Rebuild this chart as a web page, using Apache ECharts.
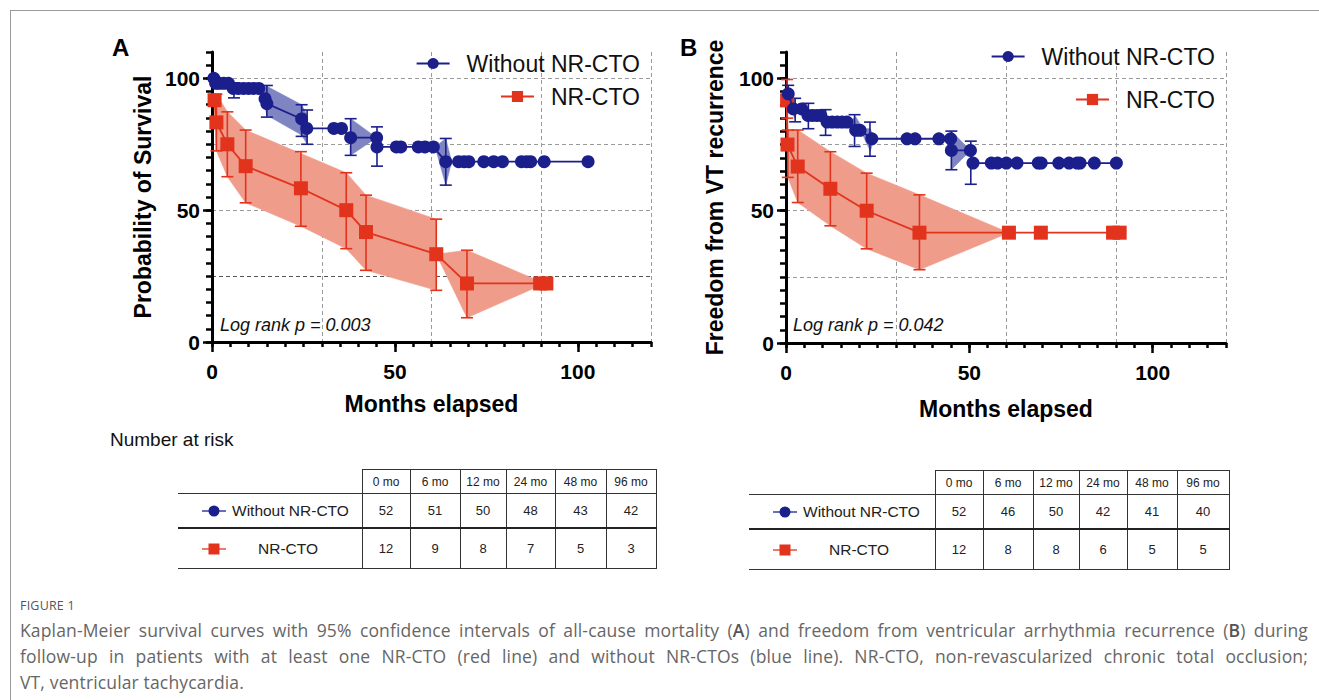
<!DOCTYPE html>
<html>
<head>
<meta charset="utf-8">
<script src="https://cdn.jsdelivr.net/npm/echarts@6/dist/echarts.min.js"></script>
<style>
  body { margin: 0; background: #fff; }
  #page { position: relative; width: 1319px; height: 700px; overflow: hidden; font-family: "Liberation Sans", Arial, sans-serif; }
  #frame { position: absolute; left: 10px; top: 10px; right: -2px; bottom: -2px; border-top: 1px solid #9a9a9a; border-left: 1px solid #9a9a9a; }
  #chart { position: absolute; left: 0; top: 0; width: 1319px; height: 430px; }
  #riskTitle { position: absolute; left: 110px; top: 429px; font-size: 19px; color: #111; }
  table.risk { position: absolute; border-collapse: collapse; table-layout: fixed; color: #222; }
  table.risk td { padding: 0; text-align: center; font-size: 13px; }
  table.risk tr.head td { height: 23px; font-size: 12px; border: 1px solid #333; }
  table.risk tr.head td.lab { border: none; border-bottom: 1px solid #333; }
  table.risk tr.r1 td { height: 33px; border-left: 1px solid #333; border-right: 1px solid #333; border-bottom: 2px solid #222; }
  table.risk tr.r2 td { height: 39px; border-left: 1px solid #333; border-right: 1px solid #333; border-bottom: 1px solid #333; }
  table.risk tr td.lab { border-left: hidden; text-align: left; padding-left: 24px; font-size: 15.5px; white-space: nowrap; }
  table.risk td.lab svg { vertical-align: middle; }
  #figLabel { position: absolute; left: 20px; top: 597px; font-family: "Open Sans", sans-serif; font-size: 12.5px; color: #555; letter-spacing: 0.2px; }
  #caption { position: absolute; left: 20px; top: 617px; width: 1288px; font-family: "Open Sans", sans-serif; font-size: 17.5px; letter-spacing: 0.15px; line-height: 26px; color: #666; }
  #caption .just { text-align: justify; text-align-last: justify; }
  #caption b { font-weight: 600; color: #555; }
</style>
</head>
<body>
<div id="page">
  <div id="frame"></div>
  <div id="chart"></div>
  <div id="riskTitle">Number at risk</div>
  <div id="tables"></div>
  <div id="figLabel">FIGURE 1</div>
  <div id="caption">
    <div class="just">Kaplan-Meier survival curves with 95% confidence intervals of all-cause mortality (<b>A</b>) and freedom from ventricular arrhythmia recurrence (<b>B</b>) during</div>
    <div class="just">follow-up in patients with at least one NR-CTO (red line) and without NR-CTOs (blue line). NR-CTO, non-revascularized chronic total occlusion;</div>
    <div>VT, ventricular tachycardia.</div>
  </div>
</div>
<script>
// axis tick labels
const xLabelValues = [0, 50, 100];
const yLabelValues = [0, 50, 100];

// Panel A: all-cause mortality, without NR-CTO
const aWithoutTime = [0.5, 1.0, 2.0, 3.2, 4.5, 5.8, 7.2, 8.6, 10.0, 11.4, 12.8, 14.5, 15.0, 24.5, 25.9, 33.3, 35.4, 37.9, 45.0, 45.1,
  50.4, 51.6, 56.4, 58.2, 60.5, 63.9, 67.4, 68.9, 70.2, 74.3, 77.0, 79.4, 84.6, 86.0, 87.1, 90.8, 102.8];
const aWithoutSurv = [100, 98.1, 98.1, 98.1, 98.1, 96.2, 96.2, 96.2, 96.2, 96.2, 96.2, 92.3, 90.4, 84.6, 81.0, 81.0, 81.0, 77.5, 77.5, 74.0,
  74.0, 74.0, 74.0, 74.0, 74.0, 68.4, 68.4, 68.4, 68.4, 68.4, 68.4, 68.4, 68.4, 68.4, 68.4, 68.4, 68.4];
// error bars [time, lower, upper]
const aWithoutCI = [[6.0, 92.6, 98.3], [15.0, 85.3, 97.3], [24.5, 78.0, 90.0], [26.0, 75.0, 88.0], [37.9, 70.8, 84.7], [45.1, 66.7, 81.6], [63.9, 59.5, 77.2]];
// shaded bands, list of segments of [time, lower, upper]
const aWithoutBand = [
  [[13.5, 96.2, 96.2], [15.0, 86.0, 97.0], [24.5, 78.5, 90.0], [26.0, 75.0, 86.0]],
  [[37.9, 70.8, 84.7], [45.0, 77.5, 77.5]],
  [[61.0, 74.0, 74.0], [63.9, 59.5, 77.2], [65.5, 68.4, 68.4]]
];

// Panel A: NR-CTO
const aNrTime = [0.7, 1.2, 4.2, 9.2, 24.3, 36.7, 42.1, 61.3, 69.7, 89.7, 91.4];
const aNrSurv = [91.7, 83.3, 75.0, 66.7, 58.3, 50.0, 41.7, 33.3, 22.2, 22.2, 22.2];
const aNrCI = [[1.2, 72.5, 94.0], [4.2, 62.7, 87.3], [9.2, 52.8, 80.4], [24.3, 43.9, 72.2], [36.7, 35.4, 64.2], [42.1, 27.2, 55.7], [61.3, 19.6, 46.6], [69.7, 9.2, 34.8]];
const aNrBand = [
  [[0.5, 91.7, 93.0], [1.2, 72.5, 94.0], [4.2, 62.7, 87.3], [9.2, 52.8, 80.4], [24.3, 43.9, 71.5], [36.7, 35.4, 64.2], [42.1, 27.2, 55.7], [61.3, 19.6, 46.6]],
  [[61.3, 33.3, 33.3], [69.7, 9.2, 34.8], [91.0, 22.2, 22.2]]
];

// Panel B: freedom from VT recurrence, without NR-CTO
const bWithoutTime = [0.6, 2.0, 4.3, 6.0, 7.2, 8.4, 9.5, 11.2, 12.6, 14.0, 15.3, 16.6, 19.0, 20.2, 23.4, 33.0, 35.2, 41.7, 44.9, 45.1,
  50.3, 51.0, 56.0, 57.7, 60.1, 63.0, 68.8, 69.6, 74.4, 77.2, 79.4, 80.2, 84.1, 90.1];
const bWithoutSurv = [94.2, 88.5, 88.5, 86.0, 86.0, 86.0, 86.0, 83.5, 83.5, 83.5, 83.5, 83.5, 80.4, 80.4, 77.2, 77.2, 77.2, 77.2, 77.2, 72.8,
  72.8, 68.0, 68.0, 68.0, 68.0, 68.0, 68.0, 68.0, 68.0, 68.0, 68.0, 68.0, 68.0, 68.0];
const bWithoutCI = [[0.6, 90.5, 97.4], [2.5, 83.6, 92.5], [6.1, 81.0, 90.6], [10.8, 78.5, 88.2], [18.7, 74.3, 86.3], [22.9, 70.6, 83.5], [45.1, 65.5, 80.1], [50.4, 60.0, 76.3]];
const bWithoutBand = [
  [[0.6, 94.2, 94.2], [2.3, 85.0, 92.0], [3.2, 88.5, 88.5]],
  [[17.0, 83.5, 83.5], [19.0, 79.5, 85.5], [21.0, 78.5, 81.0], [23.0, 72.5, 81.0], [24.0, 77.2, 77.2]],
  [[45.1, 65.5, 80.1], [50.3, 72.8, 72.8]]
];

// Panel B: NR-CTO
const bNrTime = [0.3, 0.4, 3.2, 12.1, 22.0, 36.4, 60.8, 69.5, 89.2, 91.0];
const bNrSurv = [91.7, 75.0, 66.7, 58.3, 50.0, 41.7, 41.7, 41.7, 41.7, 41.7];
const bNrCI = [[0.3, 85.0, 99.6], [0.5, 62.6, 80.5], [3.2, 53.1, 80.5], [12.1, 44.3, 72.3], [22.0, 35.6, 64.2], [36.4, 27.7, 56.0]];
const bNrBand = [
  [[0.2, 85.0, 92.5], [0.5, 62.6, 80.5], [3.2, 53.1, 80.5], [12.1, 44.3, 72.3], [22.0, 35.6, 64.2], [36.4, 27.7, 56.0], [60.8, 41.7, 41.7]]
];

// number at risk tables
const riskTimes = ['0 mo', '6 mo', '12 mo', '24 mo', '48 mo', '96 mo'];
const aRiskWithout = [52, 51, 50, 48, 43, 42];
const aRiskNr = [12, 9, 8, 7, 5, 3];
const bRiskWithout = [52, 46, 50, 42, 41, 40];
const bRiskNr = [12, 8, 8, 6, 5, 5];

const BLUE = '#1b1f8c', RED = '#e2331c';
const BLUE_BAND = '#7f84c2', RED_BAND = '#f09c8b';
const FONT = '"Liberation Sans", Arial, sans-serif';

function pairs(t, v) { return t.map((x, i) => [x, v[i]]); }

// one quad per pair of neighbouring band vertices
function quads(segments) {
  const out = [];
  segments.forEach(seg => {
    for (let i = 0; i < seg.length - 1; i++) out.push(seg[i].concat(seg[i + 1]));
  });
  return out;
}

function renderBand(params, api) {
  const a = api.coord([api.value(0), api.value(2)]);
  const b = api.coord([api.value(3), api.value(5)]);
  const c = api.coord([api.value(3), api.value(4)]);
  const d = api.coord([api.value(0), api.value(1)]);
  const color = api.visual('color');
  return {type: 'polygon', shape: {points: [a, b, c, d]}, style: {fill: color, stroke: color, lineWidth: 0.6}};
}

function renderErr(params, api) {
  const lo = api.coord([api.value(0), api.value(1)]);
  const hi = api.coord([api.value(0), api.value(2)]);
  const st = {stroke: api.visual('color'), lineWidth: 1.6};
  const w = 6;
  return {type: 'group', children: [
    {type: 'line', shape: {x1: lo[0], y1: lo[1], x2: hi[0], y2: hi[1]}, style: st},
    {type: 'line', shape: {x1: lo[0] - w, y1: lo[1], x2: lo[0] + w, y2: lo[1]}, style: st},
    {type: 'line', shape: {x1: hi[0] - w, y1: hi[1], x2: hi[0] + w, y2: hi[1]}, style: st}
  ]};
}

const gridLine = {show: true, showMinLine: false, lineStyle: {color: '#9a9a9a', width: 1, type: [4, 3]}};

function xAxes(gi, nameGap) {
  return [
    {gridIndex: gi, type: 'value', min: 0, max: 120, interval: 5, position: 'bottom',
      name: 'Months elapsed', nameLocation: 'middle', nameGap: nameGap,
      nameTextStyle: {fontFamily: FONT, fontWeight: 'bold', fontSize: 23, color: '#000'},
      axisLine: {onZero: false, lineStyle: {color: '#000', width: 3}},
      axisTick: {length: 5, lineStyle: {color: '#000', width: 2.5}},
      axisLabel: {margin: 19, fontFamily: FONT, fontWeight: 'bold', fontSize: 21, color: '#000',
        formatter: v => xLabelValues.includes(v) ? String(v) : ''},
      splitLine: {show: false}},
    {gridIndex: gi, type: 'value', min: 0, max: 120, interval: 30, position: 'bottom',
      axisLine: {show: false}, axisTick: {show: false}, axisLabel: {show: false}, splitLine: gridLine},
    {gridIndex: gi, type: 'value', min: 0, max: 120, position: 'bottom',
      axisLine: {show: false}, axisLabel: {show: false}, splitLine: {show: false},
      axisTick: {length: 10, customValues: xLabelValues, lineStyle: {color: '#000', width: 2.5}}}
  ];
}

function yAxes(gi, name, nameGap, gridColors) {
  return [
    {gridIndex: gi, type: 'value', min: 0, max: 110, interval: 5, position: 'left',
      name: name, nameLocation: 'middle', nameGap: nameGap,
      nameTextStyle: {fontFamily: FONT, fontWeight: 'bold', fontSize: 23, color: '#000'},
      axisLine: {onZero: false, lineStyle: {color: '#000', width: 3}},
      axisTick: {length: 6, lineStyle: {color: '#000', width: 2.5}},
      axisLabel: {margin: 12, fontFamily: FONT, fontWeight: 'bold', fontSize: 21, color: '#000',
        formatter: v => yLabelValues.includes(v) ? String(v) : ''},
      splitLine: {show: false}},
    {gridIndex: gi, type: 'value', min: 0, max: 110, interval: 25, position: 'left',
      axisLine: {show: false}, axisTick: {show: false}, axisLabel: {show: false},
      splitLine: {show: true, showMinLine: false, showMaxLine: false, lineStyle: {color: gridColors, width: 1, type: [4, 3]}}},
    {gridIndex: gi, type: 'value', min: 0, max: 110, position: 'left',
      axisLine: {show: false}, axisLabel: {show: false}, splitLine: {show: false},
      axisTick: {length: 9, customValues: yLabelValues, lineStyle: {color: '#000', width: 2.5}}}
  ];
}

function panelSeries(ax, withoutT, withoutS, withoutCI, withoutBand, nrT, nrS, nrCI, nrBand) {
  const base = {xAxisIndex: ax, yAxisIndex: ax};
  return [
    Object.assign({type: 'custom', renderItem: renderBand, data: quads(nrBand), encode: {x: [0, 3], y: [1, 2, 4, 5]},
      itemStyle: {color: RED_BAND}, z: 1, silent: true}, base),
    Object.assign({type: 'custom', renderItem: renderBand, data: quads(withoutBand), encode: {x: [0, 3], y: [1, 2, 4, 5]},
      itemStyle: {color: BLUE_BAND}, z: 1, silent: true}, base),
    Object.assign({type: 'custom', renderItem: renderErr, data: nrCI, encode: {x: 0, y: [1, 2]},
      itemStyle: {color: RED}, z: 2, silent: true}, base),
    Object.assign({type: 'custom', renderItem: renderErr, data: withoutCI, encode: {x: 0, y: [1, 2]},
      itemStyle: {color: BLUE}, z: 2, silent: true}, base),
    Object.assign({name: 'NR-CTO', type: 'line', data: pairs(nrT, nrS), symbol: 'rect', symbolSize: 14,
      itemStyle: {color: RED}, lineStyle: {color: RED, width: 1.8}, z: 3}, base),
    Object.assign({name: 'Without NR-CTO', type: 'line', data: pairs(withoutT, withoutS), symbol: 'circle', symbolSize: 13,
      itemStyle: {color: BLUE}, lineStyle: {color: BLUE, width: 1.8}, z: 4}, base)
  ];
}

function legendItem(name, right, top) {
  return {data: [name], right: right, top: top, padding: 0, itemWidth: 33, itemHeight: 14,
    textStyle: {fontFamily: FONT, fontSize: 23, color: '#111', padding: [0, 0, 0, 12]}};
}

const chart = echarts.init(document.getElementById('chart'), null, {renderer: 'svg'});
chart.setOption({
  animation: false,
  grid: [
    {left: 212, top: 52, width: 439, height: 290},
    {left: 786, top: 52, width: 440, height: 291}
  ],
  xAxis: xAxes(0, 50).concat(xAxes(1, 54)),
  yAxis: yAxes(0, 'Probability of Survival', 58, ['#555', '#9a9a9a', '#9a9a9a', '#9a9a9a'])
    .concat(yAxes(1, 'Freedom from VT recurrence', 60, ['#9a9a9a'])),
  legend: [
    legendItem('Without NR-CTO', 679, 52),
    legendItem('NR-CTO', 679, 85),
    legendItem('Without NR-CTO', 104, 45),
    legendItem('NR-CTO', 104, 88)
  ],
  graphic: [
    {type: 'text', left: 112, top: 35, style: {text: 'A', font: 'bold 24px ' + FONT, fill: '#000'}},
    {type: 'text', left: 680, top: 35, style: {text: 'B', font: 'bold 24px ' + FONT, fill: '#000'}},
    {type: 'text', left: 220, top: 316, style: {text: 'Log rank p = 0.003', font: 'italic 18px ' + FONT, fill: '#111'}},
    {type: 'text', left: 793, top: 316, style: {text: 'Log rank p = 0.042', font: 'italic 18px ' + FONT, fill: '#111'}}
  ],
  series: panelSeries(0, aWithoutTime, aWithoutSurv, aWithoutCI, aWithoutBand, aNrTime, aNrSurv, aNrCI, aNrBand)
    .concat(panelSeries(3, bWithoutTime, bWithoutSurv, bWithoutCI, bWithoutBand, bNrTime, bNrSurv, bNrCI, bNrBand))
});

// number at risk tables
function icon(color, shape) {
  const mark = shape === 'circle'
    ? '<circle cx="12" cy="7" r="5.5" fill="' + color + '"/>'
    : '<rect x="6.5" y="1.5" width="11" height="11" fill="' + color + '"/>';
  return '<svg width="24" height="14"><line x1="0" y1="7" x2="24" y2="7" stroke="' + color + '" stroke-width="1.3"/>' + mark + '</svg>';
}

function buildTable(left, top, widths, rows) {
  let html = '<table class="risk" style="left:' + left + 'px;top:' + top + 'px"><colgroup>';
  widths.forEach(w => { html += '<col style="width:' + w + 'px">'; });
  html += '</colgroup><tr class="head"><td class="lab"></td>';
  riskTimes.forEach(t => { html += '<td>' + t + '</td>'; });
  html += '</tr>';
  rows.forEach((r, i) => {
    html += '<tr class="r' + (i + 1) + '"><td class="lab">' + icon(r.color, r.shape) +
      '<span style="margin-left:' + r.gap + 'px;vertical-align:middle">' + r.label + '</span></td>';
    r.values.forEach(v => { html += '<td>' + v + '</td>'; });
    html += '</tr>';
  });
  return html + '</table>';
}

document.getElementById('tables').innerHTML =
  buildTable(178, 469, [184, 48, 50, 46, 49, 51, 50], [
    {label: 'Without NR-CTO', color: BLUE, shape: 'circle', gap: 6, values: aRiskWithout},
    {label: 'NR-CTO', color: RED, shape: 'rect', gap: 32, values: aRiskNr}
  ]) +
  buildTable(749, 470, [186, 48, 50, 46, 48, 50, 52], [
    {label: 'Without NR-CTO', color: BLUE, shape: 'circle', gap: 6, values: bRiskWithout},
    {label: 'NR-CTO', color: RED, shape: 'rect', gap: 32, values: bRiskNr}
  ]);
</script>
</body>
</html>
